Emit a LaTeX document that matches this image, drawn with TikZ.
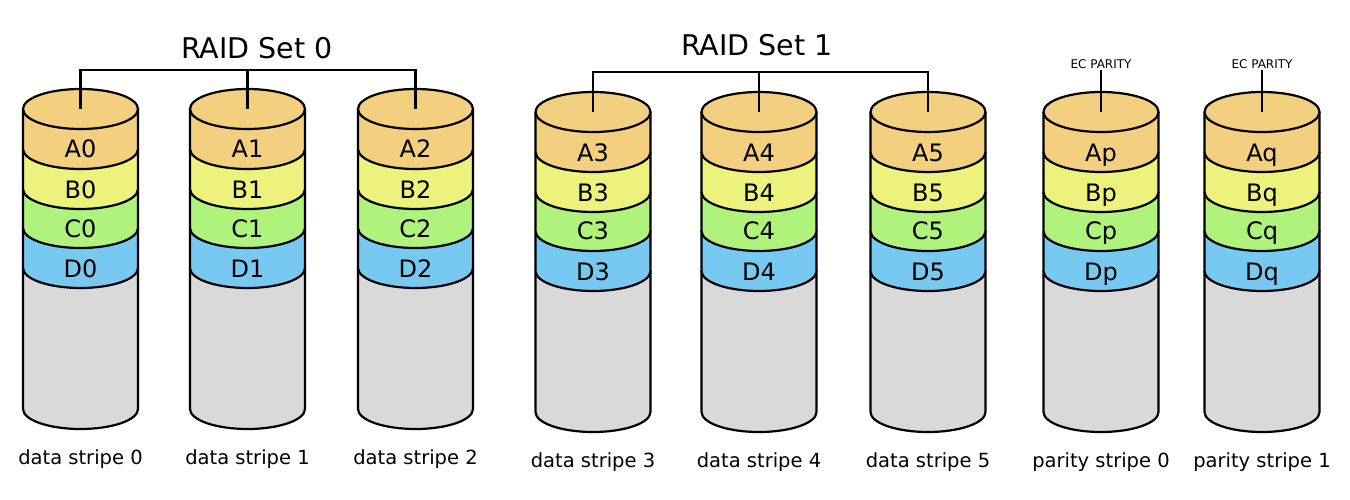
\documentclass[tikz,border=0pt]{standalone}
\usepackage{fontspec}
\setmainfont{DejaVu Sans}
\definecolor{cA}{HTML}{F2D07F}
\definecolor{cB}{HTML}{EDF27D}
\definecolor{cC}{HTML}{AFF27C}
\definecolor{cD}{HTML}{78C9F2}
\definecolor{diskgray}{HTML}{D9D9D9}
\tikzset{
  edge/.style={line width=2.2pt},
  band/.style={font=\fontsize{24}{24}\selectfont, anchor=base},
  stripe/.style={font=\fontsize{19.5}{20}\selectfont, anchor=base},
  settitle/.style={font=\fontsize{28.5}{30}\selectfont},
  ecnote/.style={font=\fontsize{12}{12}\selectfont, inner sep=1.5pt},
}
\def\rx{57.5}
\def\ry{20}
% #1 name, #2 x, #3 top y, #4 block suffix, #5 stripe label
\newcommand{\disk}[5]{%
  \coordinate (#1-top) at (#2,-#3);
  \fill[diskgray] (#2-\rx,-#3-159) rectangle (#2+\rx,-#3-300);
  \fill[diskgray] (#2,-#3-300) ellipse [x radius=\rx,y radius=\ry];
  \draw[edge] (#2-\rx,-#3-159) -- (#2-\rx,-#3-300) arc [start angle=180,end angle=360,x radius=\rx,y radius=\ry] -- (#2+\rx,-#3-159);
  \foreach \u/\l/\c/\t in {119/159/cD/D,80/119/cC/C,40/80/cB/B,0/40/cA/A}{
    \fill[\c] (#2-\rx,-#3-\u) rectangle (#2+\rx,-#3-\l);
    \fill[\c] (#2,-#3-\l) ellipse [x radius=\rx,y radius=\ry];
    \draw[edge] (#2-\rx,-#3-\u) -- (#2-\rx,-#3-\l) arc [start angle=180,end angle=360,x radius=\rx,y radius=\ry] -- (#2+\rx,-#3-\u);
    \node[band] (#1-\t) at (#2,-#3-\l-9) {\t#4};
  }
  \filldraw[edge,fill=cA] (#2,-#3) ellipse [x radius=\rx,y radius=\ry];
  \node[stripe] (#1-name) at (#2,-#3-355) {#5};
}
\begin{document}
\begin{tikzpicture}[x=1pt,y=1pt]
\useasboundingbox (0,0) rectangle (1350,-500);
\disk{d0}{80.5}{109}{0}{data stripe 0}
\disk{d1}{247.5}{109}{1}{data stripe 1}
\disk{d2}{415.5}{109}{2}{data stripe 2}
\disk{d3}{593}{112}{3}{data stripe 3}
\disk{d4}{759}{112}{4}{data stripe 4}
\disk{d5}{928}{112}{5}{data stripe 5}
\disk{p0}{1101}{112}{p}{parity stripe 0}
\disk{p1}{1262}{112}{q}{parity stripe 1}
% raid sets
\node[settitle] (set0) at (257,-48) {RAID Set 0};
\coordinate (bar0) at (0,-70);
\draw[edge] (d0-top) -- (d0-top |- bar0) -- (d2-top |- bar0) -- (d2-top);
\draw[edge] (d1-top) -- (d1-top |- bar0);
\node[settitle] (set1) at (757,-45) {RAID Set 1};
\coordinate (bar1) at (0,-72);
\draw[edge] (d3-top) -- (d3-top |- bar1) -- (d5-top |- bar1) -- (d5-top);
\draw[edge] (d4-top) -- (d4-top |- bar1);
% parity
\node[ecnote] (ec0) at (1101,-64) {EC PARITY};
\node[ecnote] (ec1) at (1262,-64) {EC PARITY};
\draw[edge] (ec0) -- (p0-top);
\draw[edge] (ec1) -- (p1-top);
\end{tikzpicture}
\end{document}
